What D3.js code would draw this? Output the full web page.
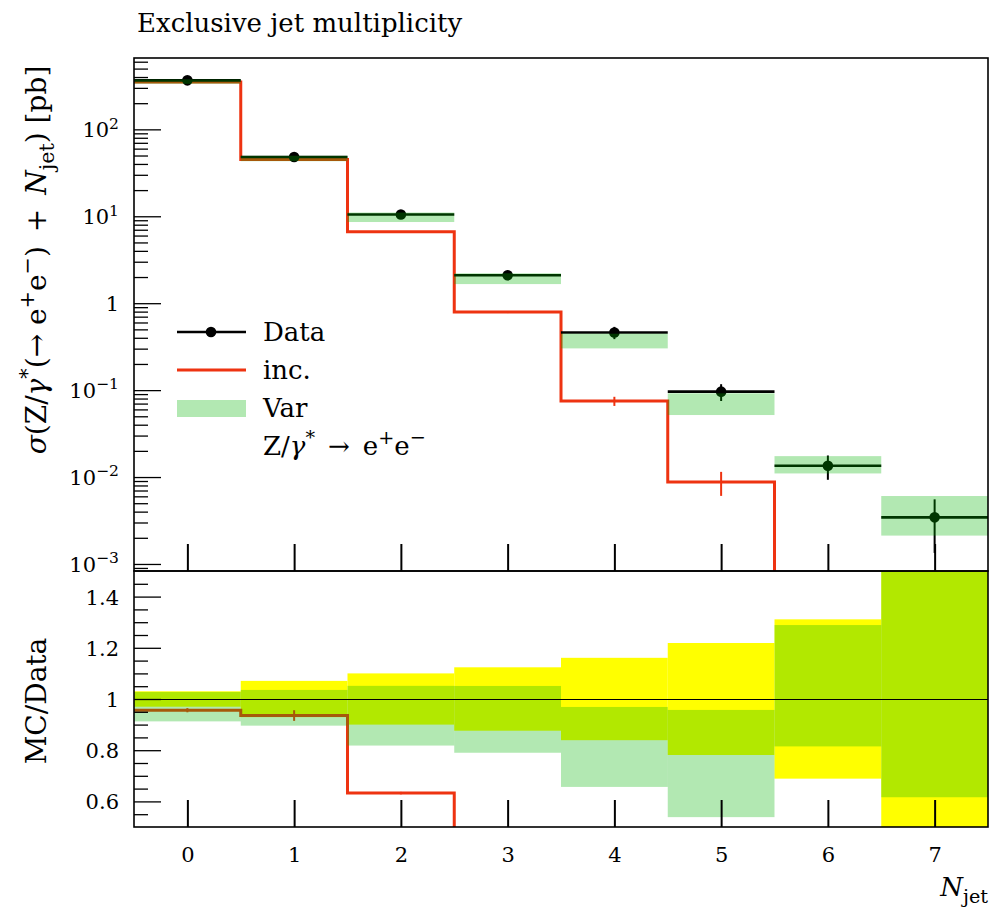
<!DOCTYPE html>
<html>
<head>
<meta charset="utf-8">
<script src="https://cdn.jsdelivr.net/npm/d3@7/dist/d3.min.js"></script>
<style>
  body { margin: 0; background: #fff; }
  svg { display: block; }
  text { font-family: "DejaVu Serif", "Liberation Serif", serif; fill: #000; }
</style>
</head>
<body>
<svg id="chart" width="989" height="909"></svg>
<script>
// Exclusive jet multiplicity, Z/gamma* -> e+e- : data vs. "inc." and the "Var" band
const nJet      = [0, 1, 2, 3, 4, 5, 6, 7];
const dataVal   = [366, 48, 10.5, 2.1, 0.46, 0.096, 0.0135, 0.00344];
const dataErr   = [11, 3.4, 1.05, 0.26, 0.074, 0.021, 0.0042, 0.0021];
const incVal    = [350, 44.9, 6.64, 0.79, 0.0748, 0.00877, 0, 0];
const incErr    = [3, 1, 0.05, 0.02, 0.009, 0.0027, 0, 0];
const varLow    = [334, 43.0, 8.59, 1.659, 0.302, 0.0517, 0.011, 0.00212];
const varHigh   = [376, 49.7, 11.04, 2.207, 0.4457, 0.0919, 0.0174, 0.00605];

const yMajorTicks  = [1e-3, 1e-2, 1e-1, 1, 1e1, 1e2];
const yMajorLabels = [["10", "−3"], ["10", "−2"], ["10", "−1"], ["1", ""], ["10", "1"], ["10", "2"]];
const ratioTicks   = [0.6, 0.8, 1.0, 1.2, 1.4];
const ratioLabels  = ["0.6", "0.8", "1", "1.2", "1.4"];
const legendLabels = ["Data", "inc.", "Var"];

const RED = "#ee3311";
const VAR_FILL = "rgba(0,178,0,0.3)";
const YELLOW = "#ffff00";
const FS = 26;      // text size for title and legend
const AFS = 28;     // axis title size
const TFS = 21;     // tick label size

const svg = d3.select("#chart");
const L = 134, R = 988, T = 58, MID = 571, B = 827;

const x  = d3.scaleLinear().domain([-0.5, 7.5]).range([L, R]);
const y  = d3.scaleLog().domain([8.3e-4, 662]).range([MID, T]);
const yr = d3.scaleLinear().domain([0.5, 1.5]).range([B, MID]);

// clip regions
const defs = svg.append("defs");
defs.append("clipPath").attr("id", "clipTop").append("rect")
  .attr("x", L).attr("y", T).attr("width", R - L).attr("height", MID - T);
defs.append("clipPath").attr("id", "clipRatio").append("rect")
  .attr("x", L).attr("y", MID).attr("width", R - L).attr("height", B - MID);

// rich text helper: parts with italic / superscript / subscript
function rich(sel, parts, base) {
  let cur = 0;
  parts.forEach(p => {
    const ts = sel.append("tspan").text(p.t);
    const o = p.sup ? -0.42 * base : p.sub ? 0.28 * base : 0;
    if (o !== cur) ts.attr("dy", o - cur);
    cur = o;
    if (p.sup || p.sub) ts.attr("font-size", 0.74 * base);
    if (p.it) ts.attr("font-style", "italic");
  });
}

const yOf = v => v > 0 ? y(v) : MID + 50;

// ---------- main panel ----------
const mainG = svg.append("g").attr("clip-path", "url(#clipTop)");

// inc. step line
{
  const pts = [];
  nJet.forEach((n, i) => {
    pts.push([x(n - 0.5), yOf(incVal[i])]);
    pts.push([x(n + 0.5), yOf(incVal[i])]);
  });
  mainG.append("path").attr("d", d3.line()(pts))
    .attr("fill", "none").attr("stroke", RED).attr("stroke-width", 3);
  nJet.forEach((n, i) => {
    if (incVal[i] > 0 && incErr[i] > 0) {
      mainG.append("line").attr("x1", x(n)).attr("x2", x(n))
        .attr("y1", y(incVal[i] + incErr[i])).attr("y2", y(incVal[i] - incErr[i]))
        .attr("stroke", RED).attr("stroke-width", 2);
    }
  });
}

// data
nJet.forEach((n, i) => {
  mainG.append("line").attr("x1", x(n - 0.5)).attr("x2", x(n + 0.5))
    .attr("y1", y(dataVal[i])).attr("y2", y(dataVal[i]))
    .attr("stroke", "#000").attr("stroke-width", 2.6);
  mainG.append("line").attr("x1", x(n)).attr("x2", x(n))
    .attr("y1", y(dataVal[i] + dataErr[i])).attr("y2", y(Math.max(dataVal[i] - dataErr[i], 1e-6)))
    .attr("stroke", "#000").attr("stroke-width", 2);
  mainG.append("circle").attr("cx", x(n)).attr("cy", y(dataVal[i])).attr("r", 5.3).attr("fill", "#000");
});

// Var band
mainG.selectAll("rect.var").data(nJet).enter().append("rect")
  .attr("x", n => x(n - 0.5)).attr("width", x(1) - x(0))
  .attr("y", (n, i) => y(varHigh[i])).attr("height", (n, i) => y(varLow[i]) - y(varHigh[i]))
  .attr("fill", VAR_FILL);

// ---------- ratio panel ----------
const ratG = svg.append("g").attr("clip-path", "url(#clipRatio)");

ratG.selectAll("rect.unc").data(nJet).enter().append("rect")
  .attr("x", n => x(n - 0.5)).attr("width", x(1) - x(0))
  .attr("y", (n, i) => yr(1 + dataErr[i] / dataVal[i]))
  .attr("height", (n, i) => yr(1 - dataErr[i] / dataVal[i]) - yr(1 + dataErr[i] / dataVal[i]))
  .attr("fill", YELLOW);

{
  const pts = [];
  nJet.forEach((n, i) => {
    const r = incVal[i] / dataVal[i];
    pts.push([x(n - 0.5), yr(r)]);
    pts.push([x(n + 0.5), yr(r)]);
  });
  ratG.append("path").attr("d", d3.line()(pts))
    .attr("fill", "none").attr("stroke", RED).attr("stroke-width", 3);
  nJet.forEach((n, i) => {
    if (incVal[i] > 0 && incErr[i] > 0) {
      const r = incVal[i] / dataVal[i], e = incErr[i] / dataVal[i];
      ratG.append("line").attr("x1", x(n)).attr("x2", x(n))
        .attr("y1", yr(r + e)).attr("y2", yr(r - e))
        .attr("stroke", RED).attr("stroke-width", 2);
    }
  });
}

ratG.selectAll("rect.var").data(nJet).enter().append("rect")
  .attr("x", n => x(n - 0.5)).attr("width", x(1) - x(0))
  .attr("y", (n, i) => yr(varHigh[i] / dataVal[i]))
  .attr("height", (n, i) => yr(varLow[i] / dataVal[i]) - yr(varHigh[i] / dataVal[i]))
  .attr("fill", VAR_FILL);

ratG.append("line").attr("x1", L).attr("x2", R)
  .attr("y1", Math.round(yr(1)) + 0.5).attr("y2", Math.round(yr(1)) + 0.5)
  .attr("stroke", "#000").attr("stroke-width", 1);

// ---------- axes ----------
function styleTicks(g, w) {
  g.select(".domain").remove();
  g.selectAll(".tick line").attr("stroke", "#000").attr("stroke-width", w);
}

// main-panel y ticks (inward)
const yMinor = [];
for (let e = -4; e <= 2; e++) for (let m = 2; m <= 9; m++) {
  const v = m * Math.pow(10, e);
  if (v >= y.domain()[0] && v <= y.domain()[1]) yMinor.push(v);
}
svg.append("g").attr("transform", `translate(${L},0)`)
  .call(d3.axisRight(y).tickValues(yMinor).tickSize(14).tickFormat(""))
  .call(g => styleTicks(g, 1.3));
svg.append("g").attr("transform", `translate(${L},0)`)
  .call(d3.axisRight(y).tickValues(yMajorTicks).tickSize(27).tickFormat(""))
  .call(g => styleTicks(g, 1.3));

// main-panel y labels
const yLab = svg.append("g").attr("transform", `translate(${L},0)`)
  .call(d3.axisLeft(y).tickValues(yMajorTicks).tickSize(0).tickPadding(15).tickFormat(""));
yLab.select(".domain").remove();
yLab.selectAll(".tick text").each(function (d, i) {
  const t = d3.select(this).attr("font-size", TFS).attr("font-family", null).attr("dy", "0.36em");
  const [b, s] = yMajorLabels[i];
  const parts = [{ t: b }];
  if (s) parts.push({ t: s, sup: true });
  rich(t, parts, TFS);
});

// ratio y ticks
const rMinor = d3.range(0.55, 1.5, 0.05).map(v => +v.toFixed(2)).filter(v => !ratioTicks.some(t => Math.abs(t - v) < 1e-6));
svg.append("g").attr("transform", `translate(${L},0)`)
  .call(d3.axisRight(yr).tickValues(rMinor).tickSize(14).tickFormat(""))
  .call(g => styleTicks(g, 1.3));
svg.append("g").attr("transform", `translate(${L},0)`)
  .call(d3.axisRight(yr).tickValues(ratioTicks).tickSize(27).tickFormat(""))
  .call(g => styleTicks(g, 1.3));
const rLab = svg.append("g").attr("transform", `translate(${L},0)`)
  .call(d3.axisLeft(yr).tickValues(ratioTicks).tickSize(0).tickPadding(15).tickFormat((d, i) => ratioLabels[i]));
rLab.select(".domain").remove();
rLab.selectAll(".tick text").attr("font-size", TFS).attr("font-family", null).attr("dy", "0.36em");

// x ticks (upward from each panel bottom)
svg.append("g").attr("transform", `translate(0,${MID})`)
  .call(d3.axisTop(x).tickValues(nJet).tickSize(27).tickFormat(""))
  .call(g => styleTicks(g, 2));
svg.append("g").attr("transform", `translate(0,${B})`)
  .call(d3.axisTop(x).tickValues(nJet).tickSize(27).tickFormat(""))
  .call(g => styleTicks(g, 2));
const xLab = svg.append("g").attr("transform", `translate(0,${B})`)
  .call(d3.axisBottom(x).tickValues(nJet).tickSize(0).tickPadding(20).tickFormat(d3.format("d")));
xLab.select(".domain").remove();
xLab.selectAll(".tick text").attr("font-size", TFS).attr("font-family", null);

// frames
svg.append("rect").attr("x", L).attr("y", T).attr("width", R - L).attr("height", MID - T)
  .attr("fill", "none").attr("stroke", "#000").attr("stroke-width", 1.6);
svg.append("rect").attr("x", L).attr("y", MID).attr("width", R - L).attr("height", B - MID)
  .attr("fill", "none").attr("stroke", "#000").attr("stroke-width", 1.6);

// ---------- texts ----------
svg.append("text").attr("x", 137).attr("y", 32).attr("font-size", FS)
  .text("Exclusive jet multiplicity");

const yTitle = svg.append("text").attr("transform", "translate(46,260) rotate(-90)")
  .attr("text-anchor", "middle").attr("font-size", AFS);
rich(yTitle, [
  { t: "σ", it: true }, { t: "(Z/" }, { t: "γ", it: true }, { t: "*", sup: true },
  { t: "(→ e" }, { t: "+", sup: true }, { t: "e" }, { t: "−", sup: true },
  { t: ")\u2002+\u2002" }, { t: "N", it: true }, { t: "jet", sub: true }, { t: ") [pb]" }
], AFS);

svg.append("text").attr("transform", "translate(46,701) rotate(-90)")
  .attr("text-anchor", "middle").attr("font-size", AFS).text("MC/Data");

const xTitle = svg.append("text").attr("x", R).attr("y", 896).attr("text-anchor", "end").attr("font-size", FS);
rich(xTitle, [{ t: "N", it: true }, { t: "jet", sub: true }], FS);

// ---------- legend ----------
const lg = svg.append("g");
lg.append("line").attr("x1", 177).attr("x2", 246).attr("y1", 332).attr("y2", 332)
  .attr("stroke", "#000").attr("stroke-width", 2.6);
lg.append("circle").attr("cx", 211).attr("cy", 332).attr("r", 5.3).attr("fill", "#000");
lg.append("line").attr("x1", 177).attr("x2", 246).attr("y1", 370).attr("y2", 370)
  .attr("stroke", RED).attr("stroke-width", 3);
lg.append("rect").attr("x", 177).attr("y", 400).attr("width", 69).attr("height", 17)
  .attr("fill", VAR_FILL);
[341, 379, 417].forEach((yy, i) => {
  lg.append("text").attr("x", 263).attr("y", yy).attr("font-size", FS).text(legendLabels[i]);
});
const proc = lg.append("text").attr("x", 263).attr("y", 455).attr("font-size", FS);
rich(proc, [
  { t: "Z/" }, { t: "γ", it: true }, { t: "*", sup: true }, { t: "\u2002→\u2002e" },
  { t: "+", sup: true }, { t: "e" }, { t: "−", sup: true }
], FS);
</script>
</body>
</html>
